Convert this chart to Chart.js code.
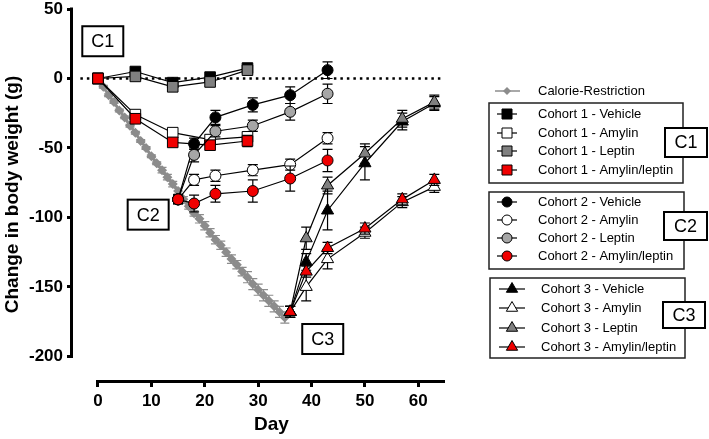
<!DOCTYPE html>
<html>
<head>
<meta charset="utf-8">
<script src="https://cdn.jsdelivr.net/npm/chart.js@4.4.1/dist/chart.umd.min.js"></script>
<style>
html,body{margin:0;padding:0;background:#fff;}
#wrap{position:relative;width:709px;height:439px;}
</style>
</head>
<body>
<div id="wrap"><canvas id="grafico"></canvas></div>
<script>

// dados
const diasCR = [0,1,2,3,4,5,6,7,8,9,10,11,12,13,14,15,16,17,18,19,20,21,22,23,24,25,26,27,28,29,30,31,32,33,34,35];
const pesoCR = [0,-6,-12,-17,-23,-28,-34,-39,-45,-50,-56,-61,-66,-71,-76,-81,-87,-92,-97,-101,-106,-111,-116,-120,-125,-130,-134,-139,-143,-148,-152,-156,-160,-164,-168,-172];
const erroCR = [0,1,1,1,1,1,1,1,1,1,1,1,2,2,2,2,2,2,2,3,3,3,3,3,3,3,3,3,4,4,4,4,4,4,4,4];

const diasC1 = [0,7,14,21,28];
const c1Veiculo = [0,5,-3,1,7.5];
const c1Amilina = [0,-26,-39,-44,-42];
const c1Leptina = [0,1.5,-6,-2.5,6];
const c1AmiLep = [0,-29,-46,-48,-45];
const e1Veiculo = [0,2,2,2,2];
const e1Amilina = [0,2,3,3,3];
const e1Leptina = [0,2,2,2,3];
const e1AmiLep = [0,2,2,3,4];

const diasC2 = [15,18,22,29,36,43];
const c2Veiculo = [-87,-47,-28,-19,-12,6];
const c2Amilina = [-87,-73,-70,-66,-62,-43];
const c2Leptina = [-87,-55,-38,-34,-24,-11];
const c2AmiLep = [-87,-90,-83,-81,-72,-59];
const e2Veiculo = [3,4,5,5,6,6];
const e2Amilina = [3,4,4,4,4,4];
const e2Leptina = [3,5,4,4,6,7];
const e2AmiLep = [3,6,6,8,9,8];

const diasC3 = [36,39,43,50,57,63];
const c3Veiculo = [-168,-132,-95,-61,-31,-18];
const c3Amilina = [-168,-150,-130,-111,-89,-78];
const c3Leptina = [-168,-115,-77,-54,-29,-17];
const c3AmiLep = [-168,-139,-122,-108,-87,-73];
const e3Veiculo = [4,6,14,12,6,5];
const e3Amilina = [4,10,7,4,4,4];
const e3Leptina = [4,8,6,7,6,5];
const e3AmiLep = [4,4,4,4,4,4];

const marcasX = [0,10,20,30,40,50,60];
const marcasY = [-200,-150,-100,-50,0,50];

const rotulosC = ['C1','C2','C3'];
const diaRotuloC = [0.9,9.4,42.1];
const valorRotuloC = [26.8,-98,-187.5];

const FONTE = "'Liberation Sans', Arial, sans-serif";
const VERMELHO = '#f00000';

function serie(label, dias, valores, erros, estilo, cor, raio){
return {
label: label,
data: dias.map((d,i)=>({x:d,y:valores[i]})),
erros: erros,
corErro: '#000',
borderColor: '#000',
borderWidth: 1.2,
pointStyle: estilo,
pointRadius: raio,
pointBackgroundColor: cor,
pointBorderColor: '#000',
pointBorderWidth: 1,
tension: 0,
fill: false
};
}

const cr = {
label: 'Calorie-Restriction',
data: diasCR.map((d,i)=>({x:d,y:pesoCR[i]})),
erros: erroCR,
corErro: '#8c8c8c',
borderColor: '#8c8c8c',
borderWidth: 3,
pointStyle: 'rectRot',
pointRadius: 5,
pointBackgroundColor: '#8c8c8c',
pointBorderColor: '#8c8c8c',
pointBorderWidth: 0,
tension: 0,
fill: false
};

const series = [
cr,
serie('Cohort 1 - Vehicle', diasC1, c1Veiculo, e1Veiculo, 'rect', '#000', 7.5),
serie('Cohort 1 - Amylin', diasC1, c1Amilina, e1Amilina, 'rect', '#fff', 7.5),
serie('Cohort 1 - Leptin', diasC1, c1Leptina, e1Leptina, 'rect', '#808080', 7.5),
serie('Cohort 1 - Amylin/leptin', diasC1, c1AmiLep, e1AmiLep, 'rect', VERMELHO, 7.5),
serie('Cohort 2 - Vehicle', diasC2, c2Veiculo, e2Veiculo, 'circle', '#000', 5.5),
serie('Cohort 2 - Amylin', diasC2, c2Amilina, e2Amilina, 'circle', '#fff', 5.5),
serie('Cohort 2 - Leptin', diasC2, c2Leptina, e2Leptina, 'circle', '#a6a6a6', 5.5),
serie('Cohort 2 - Amylin/leptin', diasC2, c2AmiLep, e2AmiLep, 'circle', VERMELHO, 5.5),
serie('Cohort 3 - Vehicle', diasC3, c3Veiculo, e3Veiculo, 'triangle', '#000', 7),
serie('Cohort 3 - Amylin', diasC3, c3Amilina, e3Amilina, 'triangle', '#fff', 7),
serie('Cohort 3 - Leptin', diasC3, c3Leptina, e3Leptina, 'triangle', '#808080', 7),
serie('Cohort 3 - Amylin/leptin', diasC3, c3AmiLep, e3AmiLep, 'triangle', VERMELHO, 7)
];

// os ultimos ficam por cima
series.forEach((s,i)=>{ s.order = 100 - i; });

function marcador(ctx, ds, x, y, r){
ctx.save();
ctx.fillStyle = ds.pointBackgroundColor;
ctx.strokeStyle = ds.pointBorderColor;
ctx.lineWidth = ds.pointBorderWidth || 1;
ctx.beginPath();
if(ds.pointStyle === 'rect'){
ctx.rect(x - r, y - r, 2*r, 2*r);
} else if(ds.pointStyle === 'circle'){
ctx.arc(x, y, r, 0, Math.PI*2);
} else if(ds.pointStyle === 'triangle'){
ctx.moveTo(x, y - r);
ctx.lineTo(x + r*0.87, y + r*0.5);
ctx.lineTo(x - r*0.87, y + r*0.5);
ctx.closePath();
} else {
ctx.moveTo(x - r, y);
ctx.lineTo(x, y - r);
ctx.lineTo(x + r, y);
ctx.lineTo(x, y + r);
ctx.closePath();
}
ctx.fill();
if(ds.pointBorderWidth > 0) ctx.stroke();
ctx.restore();
}

function caixaC(ctx, texto, x1, y1, x2, y2){
ctx.save();
ctx.fillStyle = '#fff';
ctx.fillRect(x1, y1, x2 - x1, y2 - y1);
ctx.strokeStyle = '#000';
ctx.lineWidth = 2;
ctx.strokeRect(x1, y1, x2 - x1, y2 - y1);
ctx.fillStyle = '#000';
ctx.font = '18px ' + FONTE;
ctx.textAlign = 'center';
ctx.textBaseline = 'middle';
ctx.fillText(texto, (x1 + x2)/2, (y1 + y2)/2 + 1);
ctx.restore();
}

const grupos = [
{caixa:[489,103,683,183], linhas:[114,133,151,170], idx:[1,2,3,4], traco:[497,517], marca:507, texto:538, c:[665,128,707,157], r:5},
{caixa:[489,192,684,269], linhas:[202,220,238,256], idx:[5,6,7,8], traco:[497,517], marca:507, texto:538, c:[664,212,707,240], r:5},
{caixa:[490,278,685,358], linhas:[289,308,328,347], idx:[9,10,11,12], traco:[499,525], marca:512, texto:541, c:[663,302,705,328], r:6.5}
];

const desenho = {
id: 'desenho',
beforeDatasetsDraw(chart){
const ctx = chart.ctx;
const sx = chart.scales.x;
const sy = chart.scales.y;
ctx.save();
// linha pontilhada no zero
ctx.strokeStyle = '#000';
ctx.lineWidth = 2.5;
ctx.setLineDash([2.5,4]);
ctx.beginPath();
ctx.moveTo(sx.getPixelForValue(-3.3), sy.getPixelForValue(0));
ctx.lineTo(sx.getPixelForValue(64.7), sy.getPixelForValue(0));
ctx.stroke();
ctx.setLineDash([]);
// eixos
ctx.lineWidth = 3;
ctx.beginPath();
ctx.moveTo(chart.chartArea.left - 1.5, sy.getPixelForValue(51));
ctx.lineTo(chart.chartArea.left - 1.5, sy.getPixelForValue(-201));
ctx.moveTo(sx.getPixelForValue(-0.3), chart.chartArea.bottom + 1.5);
ctx.lineTo(sx.getPixelForValue(65), chart.chartArea.bottom + 1.5);
ctx.stroke();
ctx.restore();
},
beforeDatasetDraw(chart, args){
const ds = chart.data.datasets[args.index];
if(!ds.erros) return;
const ctx = chart.ctx;
const sy = chart.scales.y;
const meta = args.meta;
ctx.save();
ctx.strokeStyle = ds.corErro;
ctx.lineWidth = 1.2;
ctx.beginPath();
meta.data.forEach((p,i)=>{
const e = ds.erros[i];
if(!e) return;
const v = ds.data[i].y;
const y1 = sy.getPixelForValue(v + e);
const y2 = sy.getPixelForValue(v - e);
const w = ds === cr ? 4.5 : 5;
ctx.moveTo(p.x, y1); ctx.lineTo(p.x, y2);
ctx.moveTo(p.x - w, y1); ctx.lineTo(p.x + w, y1);
ctx.moveTo(p.x - w, y2); ctx.lineTo(p.x + w, y2);
});
ctx.stroke();
ctx.restore();
},
afterDraw(chart){
const ctx = chart.ctx;
const sx = chart.scales.x;
const sy = chart.scales.y;
// titulo do eixo x
ctx.save();
ctx.fillStyle = '#000';
ctx.font = 'bold 19px ' + FONTE;
ctx.textAlign = 'center';
ctx.textBaseline = 'middle';
ctx.fillText('Day', (sx.getPixelForValue(0) + sx.getPixelForValue(65))/2, 425);
ctx.restore();

// caixas C1 C2 C3 no grafico
rotulosC.forEach((t,i)=>{
const cx = sx.getPixelForValue(diaRotuloC[i]);
const cy = sy.getPixelForValue(valorRotuloC[i]);
caixaC(ctx, t, cx - 20.5, cy - 15, cx + 20.5, cy + 15);
});

// legenda
ctx.save();
ctx.font = '13px ' + FONTE;
ctx.textBaseline = 'middle';
ctx.fillStyle = '#000';
ctx.strokeStyle = '#8c8c8c';
ctx.lineWidth = 1.5;
ctx.beginPath();
ctx.moveTo(495, 91); ctx.lineTo(520, 91);
ctx.stroke();
marcador(ctx, cr, 507, 91, 4);
ctx.fillText(cr.label, 538, 91);

grupos.forEach(g=>{
ctx.strokeStyle = '#222';
ctx.lineWidth = 1.5;
ctx.strokeRect(g.caixa[0], g.caixa[1], g.caixa[2] - g.caixa[0], g.caixa[3] - g.caixa[1]);
g.idx.forEach((k,j)=>{
const ds = chart.data.datasets[k];
const y = g.linhas[j];
ctx.strokeStyle = '#000';
ctx.lineWidth = 1.2;
ctx.beginPath();
ctx.moveTo(g.traco[0], y); ctx.lineTo(g.traco[1], y);
ctx.stroke();
marcador(ctx, ds, g.marca, y, g.r);
ctx.fillStyle = '#000';
ctx.fillText(ds.label, g.texto, y);
});
caixaC(ctx, rotulosC[grupos.indexOf(g)], g.c[0], g.c[1], g.c[2], g.c[3]);
});
ctx.restore();
}
};

const ctx = document.getElementById('grafico');

new Chart(ctx,{
type:'line',
data:{ datasets: series },
options:{
responsive:true,
maintainAspectRatio:false,
animation:false,
devicePixelRatio:1,
layout:{ padding:{ left:0, top:9, right:264, bottom:0 } },
plugins:{
legend:{ display:false },
tooltip:{ enabled:false }
},
scales:{
x:{
type:'linear',
min:-4.68,
max:65,
afterBuildTicks(s){ s.ticks = marcasX.map(v=>({value:v})); },
afterFit(s){ s.height = 59; s.paddingLeft = 0; s.paddingRight = 0; },
border:{ display:false },
grid:{ drawOnChartArea:false, drawTicks:true, tickLength:7, color:'#000', lineWidth:3 },
ticks:{ color:'#000', padding:6, font:{ family:FONTE, size:17, weight:'bold', lineHeight:1 } }
},
y:{
type:'linear',
min:-217,
max:50,
afterBuildTicks(s){ s.ticks = marcasY.map(v=>({value:v})); },
afterFit(s){ s.width = 73; s.paddingTop = 0; s.paddingBottom = 0; },
border:{ display:false },
grid:{ drawOnChartArea:false, drawTicks:true, tickLength:6, color:'#000', lineWidth:3 },
ticks:{ color:'#000', padding:4, font:{ family:FONTE, size:17, weight:'bold', lineHeight:1 } },
title:{ display:true, text:'Change in body weight (g)', color:'#000', padding:{top:1,bottom:0}, font:{ family:FONTE, size:19, weight:'bold' } }
}
}
},
plugins:[desenho]
});

</script>
</body>
</html>
